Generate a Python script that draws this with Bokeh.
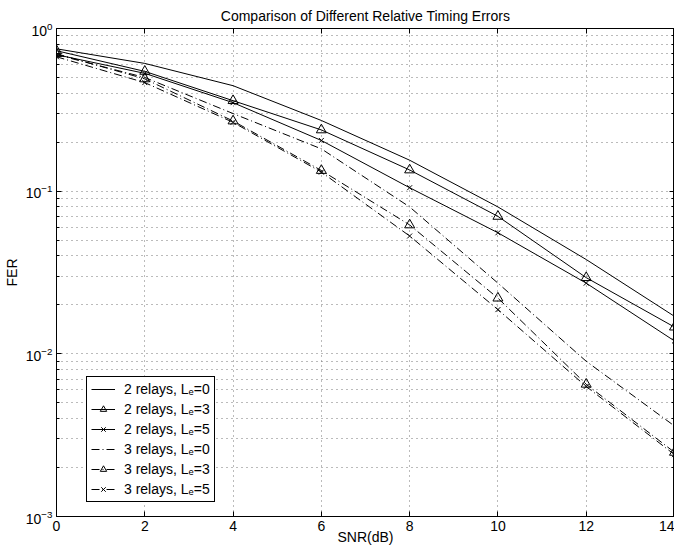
from bokeh.plotting import figure
from bokeh.models import (FixedTicker, LogAxis, LinearAxis, Legend, LegendItem, Range1d,
                          CustomJSTickFormatter)
from bokeh.embed import file_html
from bokeh.resources import INLINE

snr = [0, 2, 4, 6, 8, 10, 12, 14]
fer_2r_le0 = [0.75, 0.61, 0.445, 0.272, 0.155, 0.080, 0.038, 0.0170]
fer_2r_le3 = [0.73, 0.545, 0.36, 0.238, 0.135, 0.070, 0.0294, 0.0146]
fer_2r_le5 = [0.69, 0.53, 0.35, 0.205, 0.105, 0.0555, 0.0272, 0.0120]
fer_3r_le0 = [0.69, 0.50, 0.30, 0.182, 0.080, 0.0272, 0.0090, 0.0036]
fer_3r_le3 = [0.70, 0.49, 0.27, 0.134, 0.062, 0.0220, 0.0065, 0.00248]
fer_3r_le5 = [0.67, 0.465, 0.265, 0.131, 0.053, 0.0187, 0.0063, 0.0024]

labels = ["2 relays, L\u2091=0", "2 relays, L\u2091=3", "2 relays, L\u2091=5",
          "3 relays, L\u2091=0", "3 relays, L\u2091=3", "3 relays, L\u2091=5"]
x_ticks = [0, 2, 4, 6, 8, 10, 12, 14]
y_ticks = [0.001, 0.01, 0.1, 1]
y_minor = [k * 10.0 ** e for e in (-3, -2, -1) for k in range(2, 10)]

FONT = "Liberation Sans"
FS = "14px"

p = figure(width=674, height=547, y_axis_type="log",
           x_range=Range1d(0, 14), y_range=Range1d(0.001, 1),
           output_backend="svg", toolbar_location=None,
           title="Comparison of Different Relative Timing Errors",
           min_border_left=10, min_border_right=0, min_border_top=3, min_border_bottom=0)

p.title.text_font = FONT
p.title.text_font_size = FS
p.title.text_font_style = "normal"
p.title.text_color = "black"
p.title.align = "center"
p.title.standoff = 10

p.outline_line_color = "black"
p.outline_line_alpha = 1

xt = FixedTicker(ticks=x_ticks, minor_ticks=[])
yt = FixedTicker(ticks=y_ticks, minor_ticks=y_minor)
p.xaxis.ticker = xt
p.yaxis.ticker = yt
p.xgrid.ticker = xt
p.ygrid.ticker = yt

for ax in (p.xaxis[0], p.yaxis[0]):
    ax.major_label_text_font = FONT
    ax.major_label_text_font_size = FS
    ax.major_label_text_color = "black"
    ax.axis_label_text_font = FONT
    ax.axis_label_text_font_size = FS
    ax.axis_label_text_font_style = "normal"
    ax.axis_label_text_color = "black"
    ax.major_tick_in = 5
    ax.major_tick_out = 0
    ax.minor_tick_in = 3
    ax.minor_tick_out = 0
    ax.axis_line_color = "black"
    ax.major_tick_line_color = "black"
    ax.minor_tick_line_color = "black"
    ax.major_label_standoff = 4

p.xaxis.axis_label = "SNR(dB)"
p.yaxis.axis_label = "FER"
p.xaxis.major_label_standoff = 4
p.xaxis.axis_label_standoff = -5
p.yaxis.axis_label_standoff = 3

rax = LogAxis(ticker=yt, formatter=CustomJSTickFormatter(code="return ''"),
              major_label_text_font_size="1px",
              major_tick_in=5, major_tick_out=0,
              minor_tick_in=3, minor_tick_out=0, major_label_standoff=0,
              axis_line_color="black", major_tick_line_color="black", minor_tick_line_color="black")
p.add_layout(rax, "right")
tax = LinearAxis(ticker=xt, formatter=CustomJSTickFormatter(code="return ''"),
                 major_label_text_font_size="1px",
                 major_tick_in=5, major_tick_out=0,
                 minor_tick_in=0, minor_tick_out=0, major_label_standoff=0,
                 axis_line_color="black", major_tick_line_color="black")
p.add_layout(tax, "above")

for g in (p.xgrid[0], p.ygrid[0]):
    g.grid_line_color = "#777777"
    g.grid_line_dash = "1 4"
    g.grid_line_width = 1
p.ygrid.minor_grid_line_color = "#777777"
p.ygrid.minor_grid_line_dash = "1 4"

series = [fer_2r_le0, fer_2r_le3, fer_2r_le5, fer_3r_le0, fer_3r_le3, fer_3r_le5]
dashes = ["solid", "solid", "solid", "8 3 1 3", "8 3 1 3", "8 3 1 3"]
markers = [None, "triangle", "x", None, "triangle", "x"]

items = []
for ys, dash, mk, lab in zip(series, dashes, markers, labels):
    rs = []
    rs.append(p.line(snr, ys, line_color="black", line_width=1, line_dash=dash))
    if mk == "triangle":
        rs.append(p.scatter(snr, ys, marker="triangle", size=10, fill_color=None,
                            line_color="black", line_width=1))
    elif mk == "x":
        rs.append(p.scatter(snr, ys, marker="x", size=7, line_color="black", line_width=1))
    items.append(LegendItem(label=lab, renderers=rs))

legend = Legend(items=items, location=(30, 14), label_text_font=FONT,
                label_text_font_size=FS, label_text_color="black",
                glyph_height=16, glyph_width=24,
                label_height=16, spacing=4, padding=4, label_standoff=9,
                border_line_color="black", border_line_alpha=1, border_line_width=1,
                background_fill_color="white", background_fill_alpha=1, margin=0)
p.add_layout(legend)

open("out.html", "w").write(file_html(p, INLINE))
